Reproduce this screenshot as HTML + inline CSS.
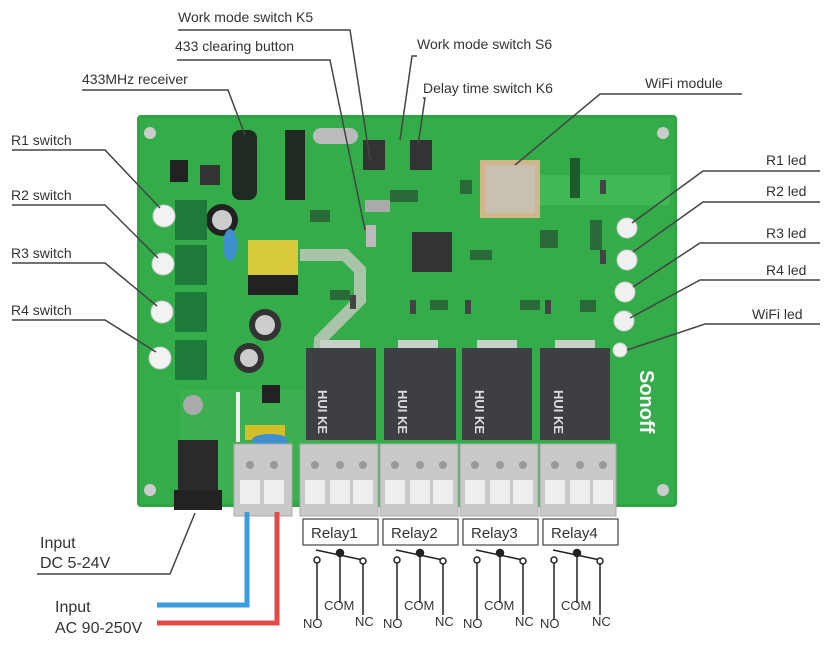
<!DOCTYPE html>
<html><head><meta charset="utf-8"><style>
html,body{margin:0;padding:0;background:#fff;}
svg{display:block;font-family:"Liberation Sans",sans-serif;}
</style></head><body>
<svg width="829" height="645" viewBox="0 0 829 645" xmlns="http://www.w3.org/2000/svg">
<rect width="829" height="645" fill="#fff"/>
<!-- board -->
<rect x="137" y="115" width="540" height="392" rx="4" fill="#2fa444"/>
<rect x="140" y="118" width="534" height="386" fill="#35ac4a"/>
<path d="M300 255 L345 255 L360 270 L360 300 L320 340 L310 500" stroke="#a9c4a8" stroke-width="12" fill="none"/>
<rect x="540" y="175" width="130" height="30" fill="#3fb855"/>
<rect x="180" y="390" width="140" height="110" fill="#3cb051"/>
<rect x="236" y="392" width="4" height="50" fill="#eee"/>
<g fill="#2a6a38"><rect x="310" y="210" width="20" height="12"/><rect x="390" y="190" width="28" height="12"/><rect x="470" y="250" width="22" height="10"/><rect x="540" y="230" width="18" height="18"/><rect x="590" y="220" width="12" height="30"/><rect x="330" y="290" width="20" height="10"/><rect x="430" y="300" width="18" height="10"/><rect x="520" y="300" width="20" height="10"/><rect x="580" y="300" width="16" height="12"/><rect x="460" y="180" width="12" height="14"/></g>
<g fill="#444"><rect x="350" y="295" width="6" height="14"/><rect x="410" y="300" width="6" height="14"/><rect x="465" y="300" width="6" height="14"/><rect x="545" y="300" width="6" height="14"/><rect x="600" y="180" width="6" height="14"/><rect x="600" y="250" width="6" height="14"/></g>
<circle cx="150" cy="133" r="6" fill="#ccc"/><circle cx="663" cy="133" r="6" fill="#ccc"/>
<circle cx="150" cy="490" r="6" fill="#ccc"/><circle cx="663" cy="490" r="6" fill="#ccc"/>
<rect x="232" y="130" width="25" height="70" rx="8" fill="#1e2a22"/>
<rect x="285" y="130" width="20" height="70" fill="#1e2a22"/>
<rect x="170" y="160" width="18" height="22" fill="#222"/>
<rect x="200" y="165" width="20" height="20" fill="#333"/>
<rect x="313" y="128" width="45" height="16" rx="8" fill="#bbb"/>
<rect x="363" y="140" width="22" height="30" fill="#333"/>
<rect x="410" y="140" width="22" height="30" fill="#333"/>
<rect x="365" y="200" width="25" height="12" fill="#aaa"/>
<rect x="366" y="225" width="10" height="22" fill="#bbb"/>
<rect x="480" y="160" width="60" height="58" fill="#d2b68a"/>
<rect x="485" y="165" width="50" height="48" fill="#c8c0b2"/>
<rect x="570" y="158" width="10" height="40" fill="#1e5b2c"/>
<rect x="412" y="232" width="40" height="40" fill="#333"/>
<circle cx="222" cy="220" r="16" fill="#222"/><circle cx="222" cy="220" r="10" fill="#ccc"/>
<rect x="248" y="240" width="50" height="35" fill="#d8c93a"/>
<rect x="248" y="275" width="50" height="20" fill="#222"/>
<circle cx="265" cy="325" r="16" fill="#333"/><circle cx="265" cy="325" r="10" fill="#ccc"/>
<circle cx="249" cy="358" r="15" fill="#333"/><circle cx="249" cy="358" r="9" fill="#ccc"/>
<circle cx="193" cy="405" r="10" fill="#aaa"/>
<rect x="245" y="425" width="40" height="15" fill="#d4bd2a"/>
<ellipse cx="230" cy="245" rx="7" ry="16" fill="#3d8fcf"/>
<ellipse cx="270" cy="440" rx="18" ry="6" fill="#3d8fcf"/>
<rect x="262" y="385" width="18" height="18" fill="#222"/>
<g fill="#1e7a3a"><rect x="175" y="200" width="32" height="40"/><rect x="175" y="245" width="32" height="40"/><rect x="175" y="292" width="32" height="40"/><rect x="175" y="340" width="32" height="40"/></g>
<g fill="#f2f2f2" stroke="#ccc"><circle cx="164" cy="216" r="11"/><circle cx="163" cy="264" r="11"/><circle cx="162" cy="312" r="11"/><circle cx="160" cy="358" r="11"/></g>
<g fill="#f0f0f0" stroke="#ccc"><circle cx="627" cy="228" r="10"/><circle cx="627" cy="260" r="10"/><circle cx="625" cy="292" r="10"/><circle cx="624" cy="321" r="10"/><circle cx="620" cy="350" r="7"/></g>
<g fill="#c8d0c8"><rect x="320" y="340" width="40" height="10"/><rect x="398" y="340" width="40" height="10"/><rect x="477" y="340" width="40" height="10"/><rect x="555" y="340" width="40" height="10"/></g>
<g fill="#3d3f44"><rect x="306" y="348" width="70" height="92"/><rect x="384" y="348" width="72" height="92"/><rect x="462" y="348" width="70" height="92"/><rect x="540" y="348" width="70" height="92"/></g>
<g fill="#ddd" font-size="13" font-weight="bold"><text x="348" y="420" transform="rotate(90 348 390)">HUI KE</text><text x="428" y="420" transform="rotate(90 428 390)">HUI KE</text><text x="505" y="420" transform="rotate(90 505 390)">HUI KE</text><text x="584" y="420" transform="rotate(90 584 390)">HUI KE</text></g>
<text x="640" y="370" font-size="20" font-weight="bold" fill="#fff" transform="rotate(90 640 370)">Sonoff</text>
<g fill="#c9c9c9" stroke="#aaa"><rect x="300" y="444" width="78" height="72"/><rect x="380" y="444" width="78" height="72"/><rect x="460" y="444" width="78" height="72"/><rect x="540" y="444" width="76" height="72"/><rect x="234" y="444" width="58" height="72"/></g>
<g fill="#999"><circle cx="315" cy="465" r="4"/><circle cx="340" cy="465" r="4"/><circle cx="363" cy="465" r="4"/><circle cx="395" cy="465" r="4"/><circle cx="420" cy="465" r="4"/><circle cx="443" cy="465" r="4"/><circle cx="475" cy="465" r="4"/><circle cx="500" cy="465" r="4"/><circle cx="523" cy="465" r="4"/><circle cx="555" cy="465" r="4"/><circle cx="580" cy="465" r="4"/><circle cx="603" cy="465" r="4"/><circle cx="250" cy="465" r="4"/><circle cx="274" cy="465" r="4"/></g>
<g fill="#eee"><rect x="305" y="480" width="20" height="24"/><rect x="330" y="480" width="20" height="24"/><rect x="353" y="480" width="20" height="24"/>
<rect x="385" y="480" width="20" height="24"/><rect x="410" y="480" width="20" height="24"/><rect x="433" y="480" width="20" height="24"/>
<rect x="465" y="480" width="20" height="24"/><rect x="490" y="480" width="20" height="24"/><rect x="513" y="480" width="20" height="24"/>
<rect x="545" y="480" width="20" height="24"/><rect x="570" y="480" width="20" height="24"/><rect x="593" y="480" width="20" height="24"/>
<rect x="240" y="480" width="20" height="24"/><rect x="264" y="480" width="20" height="24"/></g>
<rect x="178" y="440" width="40" height="58" fill="#2a2a2a"/><rect x="174" y="490" width="48" height="20" fill="#222"/>
<path d="M157 605 H247 V512" stroke="#3b9de0" stroke-width="5" fill="none"/>
<path d="M157 623 H277 V512" stroke="#e04a48" stroke-width="5" fill="none"/>
<g stroke="#444" stroke-width="1.5" fill="none">
<path d="M178 30 H350 L370 160"/>
<path d="M177 60 H330 L365 230"/>
<path d="M82 90 H228 L245 135"/>
<path d="M417 56 H412 L400 140"/>
<path d="M423 98 L425 98 L418 145"/>
<path d="M742 94 H600 L515 165"/>
<path d="M12 150 H105 L160 208"/>
<path d="M12 205 H105 L158 258"/>
<path d="M12 263 H105 L157 306"/>
<path d="M12 320 H105 L156 352"/>
<path d="M820 171 H703 L632 223"/>
<path d="M820 202 H703 L633 252"/>
<path d="M820 243 H700 L633 287"/>
<path d="M820 280 H700 L630 318"/>
<path d="M820 324 H705 L627 350"/>
<path d="M37 574 H170 L195 513"/>
</g>
<g fill="#333" font-size="14">
<text x="178" y="22">Work mode switch K5</text>
<text x="175" y="51">433 clearing button</text>
<text x="82" y="84">433MHz receiver</text>
<text x="417" y="49">Work mode switch S6</text>
<text x="423" y="93">Delay time switch K6</text>
<text x="645" y="88">WiFi module</text>
<text x="11" y="145">R1 switch</text>
<text x="11" y="200">R2 switch</text>
<text x="11" y="258">R3 switch</text>
<text x="11" y="315">R4 switch</text>
<text x="766" y="165">R1 led</text>
<text x="766" y="196">R2 led</text>
<text x="766" y="238">R3 led</text>
<text x="766" y="275">R4 led</text>
<text x="752" y="319">WiFi led</text>
</g>
<g fill="#333" font-size="16">
<text x="40" y="548">Input</text><text x="40" y="568">DC 5-24V</text>
<text x="55" y="612">Input</text><text x="55" y="633">AC 90-250V</text>
</g>
<g stroke="#444" stroke-width="1.2" fill="#fff"><rect x="303" y="519" width="75" height="26"/><rect x="383" y="519" width="75" height="26"/><rect x="463" y="519" width="75" height="26"/><rect x="543" y="519" width="75" height="26"/></g>
<g fill="#333" font-size="15"><text x="311" y="538">Relay1</text><text x="391" y="538">Relay2</text><text x="471" y="538">Relay3</text><text x="551" y="538">Relay4</text></g>
<g id="sw" stroke="#222" stroke-width="1.5" fill="none">
<path d="M317 560 V620 M340 552 V603 M363 562 V615 M316 550 L363 560"/>
<circle cx="317" cy="560" r="3" fill="#fff"/><circle cx="363" cy="561" r="3" fill="#fff"/><circle cx="340" cy="553" r="3.5" fill="#222"/>
</g>
<use href="#sw" x="80"/><use href="#sw" x="160"/><use href="#sw" x="237"/>
<g fill="#333" font-size="13">
<text x="324" y="610">COM</text><text x="303" y="628">NO</text><text x="355" y="626">NC</text>
<text x="404" y="610">COM</text><text x="383" y="628">NO</text><text x="435" y="626">NC</text>
<text x="484" y="610">COM</text><text x="463" y="628">NO</text><text x="515" y="626">NC</text>
<text x="561" y="610">COM</text><text x="540" y="628">NO</text><text x="592" y="626">NC</text>
</g>
</svg>
</body></html>
